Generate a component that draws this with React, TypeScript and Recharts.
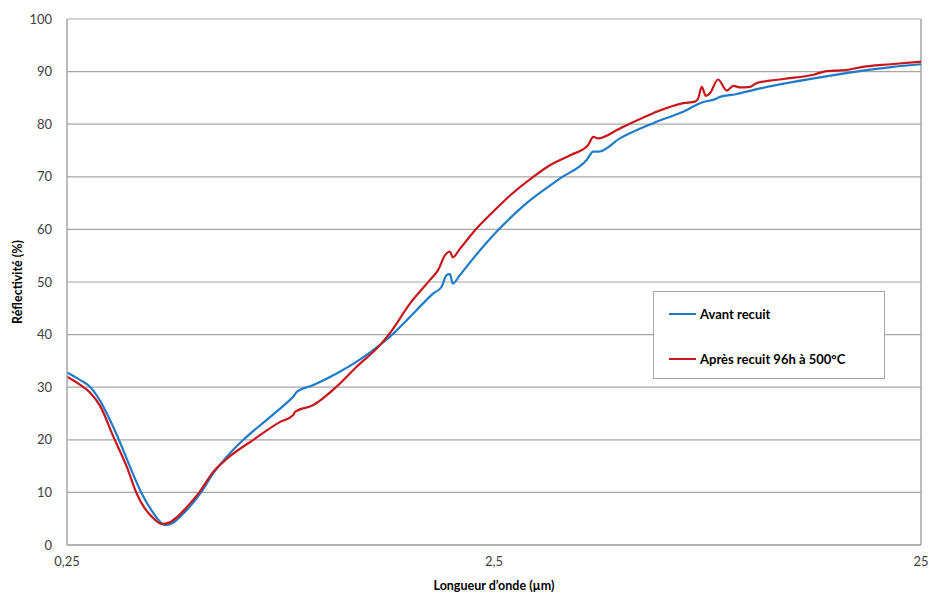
import React from 'react';
import {
  CartesianGrid,
  Label,
  Line,
  LineChart,
  ReferenceLine,
  XAxis,
  YAxis,
} from 'recharts';

// longueurs d'onde (µm) et réflectivité (%)
const avantWl = [
  0.25, 0.268, 0.283, 0.299, 0.315, 0.33, 0.351, 0.374, 0.395, 0.41, 0.424,
  0.44, 0.46, 0.485, 0.513, 0.55, 0.592, 0.647, 0.734, 0.832, 0.847, 0.863,
  0.944, 1.07, 1.21, 1.35, 1.427, 1.618, 1.8, 1.885, 1.935, 1.972, 2.001, 2.08,
  2.236, 2.58, 2.98, 3.57, 4.12, 4.27, 4.4, 4.93, 5.9, 7.07, 7.59, 8.31, 8.45,
  9.2, 10.5, 14.5, 16.7, 21.5, 25,
];
const avantR = [
  32.8, 31.4, 30.1, 27.4, 23.8, 20.2, 14.9, 9.8, 6.5, 4.7, 3.8, 4.1, 5.4, 7.3,
  9.8, 13.6, 16.8, 20.0, 23.8, 27.6, 28.2, 29.1, 30.4, 32.6, 35.2, 38.0, 39.6,
  44.0, 47.8, 49.1, 51.3, 51.5, 49.7, 51.3, 54.5, 60.2, 65.0, 69.7, 73.2, 74.8,
  74.8, 77.3, 80.2, 82.7, 84.0, 84.9, 85.2, 85.7, 86.8, 88.9, 89.7, 90.9, 91.4,
];

const apresWl = [
  0.25, 0.268, 0.283, 0.299, 0.321, 0.345, 0.364, 0.38, 0.395, 0.417, 0.435,
  0.455, 0.477, 0.508, 0.55, 0.592, 0.683, 0.789, 0.847, 0.855, 0.944, 1.07,
  1.192, 1.352, 1.427, 1.589, 1.77, 1.85, 1.92, 1.972, 2.001, 2.08, 2.278, 2.49,
  2.73, 3.09, 3.38, 3.77, 4.15, 4.27, 4.38, 4.93, 5.9, 6.94, 7.39, 7.52, 7.66,
  7.84, 8.01, 8.37, 8.77, 9.09, 9.42, 9.95, 10.3, 11.9, 14.0, 15.0, 16.7, 18.0,
  21.2, 25,
];
const apresR = [
  32.0, 30.5, 29.0, 26.4, 20.6, 14.9, 9.8, 7.0, 5.4, 4.0, 4.3, 5.5, 7.2, 9.8,
  13.9, 16.4, 20.0, 23.4, 24.7, 25.3, 26.6, 30.1, 33.9, 38.0, 40.3, 45.9, 50.4,
  52.3, 55.1, 55.8, 54.7, 56.3, 60.2, 63.4, 66.5, 70.0, 72.2, 74.1, 76.0, 77.6,
  77.3, 79.2, 82.1, 84.0, 84.3, 84.9, 87.1, 85.4, 85.9, 88.5, 86.4, 87.3, 87.0,
  87.1, 87.8, 88.6, 89.4, 90.1, 90.3, 90.8, 91.4, 91.9,
];

const xTicks = [0.25, 2.5, 25];
const yTicks = [0, 10, 20, 30, 40, 50, 60, 70, 80, 90, 100];

const seriesNames = ['Avant recuit', 'Après recuit 96h à 500°C'];
const seriesColors = ['#1F7BC8', '#C8161D'];

const avantData = avantWl.map((w, i) => ({ w, r: avantR[i] }));
const apresData = apresWl.map((w, i) => ({ w, r: apresR[i] }));

const FONT = 'Lato, "Liberation Sans", sans-serif';
const GRID = '#A6A6A6';

// légende dessinée par-dessus le graphique (cadre blanc)
const LegendBox = () => (
  <div
    style={{
      position: 'absolute',
      left: 653,
      top: 291,
      width: 232,
      height: 88,
      border: '1px solid #A6A6A6',
      background: '#fff',
      fontFamily: FONT,
      fontWeight: 700,
      fontSize: 13,
      color: '#000',
      boxSizing: 'border-box',
      paddingTop: 11,
    }}
  >
    {seriesNames.map((n, i) => (
      <div
        key={n}
        style={{
          display: 'flex',
          alignItems: 'center',
          height: 22,
          marginBottom: i === 0 ? 23 : 0,
          paddingLeft: 15,
        }}
      >
        <span
          style={{
            display: 'inline-block',
            width: 27,
            height: 2,
            background: seriesColors[i],
            marginRight: 4,
          }}
        />
        {n}
      </div>
    ))}
  </div>
);

const App: React.FC = () => {
  return (
    <div style={{ position: 'absolute', left: 0, top: 0, background: '#fff' }}>
      <LineChart
        width={929}
        height={596}
        margin={{ top: 19, right: 8, bottom: 0, left: 0 }}
      >
        <CartesianGrid
          horizontal={true}
          vertical={false}
          stroke={GRID}
          strokeWidth={1.2}
        />
        <XAxis
          dataKey="w"
          type="number"
          scale="log"
          domain={[0.25, 25]}
          ticks={xTicks}
          allowDataOverflow
          height={51}
          axisLine={{ stroke: GRID, strokeWidth: 1.5 }}
          tickLine={false}
          tickSize={0}
          tickMargin={12}
          tickFormatter={(v: number) => String(v).replace('.', ',')}
          tick={{ fontFamily: FONT, fontSize: 13, fill: '#404040' }}
        >
          <Label
            value="Longueur d’onde (µm)"
            position="center"
            dy={15}
            style={{
              fontFamily: FONT,
              fontSize: 12.5,
              fontWeight: 700,
              fill: '#000',
            }}
          />
        </XAxis>
        <YAxis
          type="number"
          domain={[0, 100]}
          ticks={yTicks}
          width={67}
          axisLine={{ stroke: GRID, strokeWidth: 1.5 }}
          tickLine={false}
          tickSize={0}
          tickMargin={15}
          tick={{ fontFamily: FONT, fontSize: 13, fill: '#404040' }}
        >
          <Label
            value="Réflectivité (%)"
            position="center"
            angle={-90}
            dx={-16}
            style={{
              fontFamily: FONT,
              fontSize: 12.5,
              fontWeight: 700,
              fill: '#000',
              textAnchor: 'middle',
            }}
          />
        </YAxis>
        <ReferenceLine x={25} stroke={GRID} strokeWidth={1.5} />
        <Line
          data={avantData}
          dataKey="r"
          name={seriesNames[0]}
          type="monotone"
          stroke={seriesColors[0]}
          strokeWidth={2.2}
          dot={false}
          isAnimationActive={false}
        />
        <Line
          data={apresData}
          dataKey="r"
          name={seriesNames[1]}
          type="monotone"
          stroke={seriesColors[1]}
          strokeWidth={2.2}
          dot={false}
          isAnimationActive={false}
        />
      </LineChart>
      <LegendBox />
    </div>
  );
};

export default App;
